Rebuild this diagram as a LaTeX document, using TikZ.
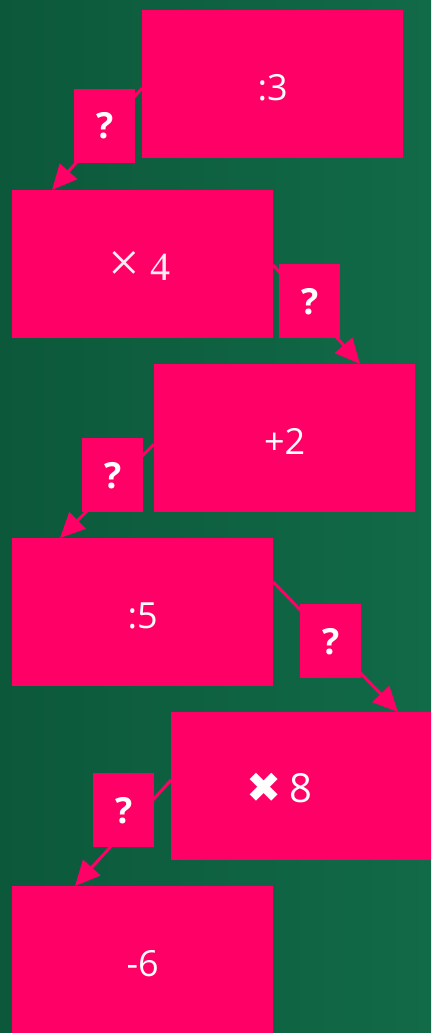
\documentclass[tikz,border=0pt]{standalone}
\usepackage{fontspec}
\setmainfont{Open Sans}
\newfontfamily\symfont{DejaVu Sans}
\newfontfamily\serifnum{Liberation Serif}
\usetikzlibrary{arrows.meta}
\definecolor{pinkbox}{HTML}{FF0066}
\definecolor{bgleft}{HTML}{0C583B}
\definecolor{bgright}{HTML}{116A48}
\tikzset{
  bigbox/.style={fill=pinkbox, draw=none, anchor=north west, minimum width=261pt, minimum height=148pt, inner sep=0pt, text=white, text height=33pt, text depth=0pt, font=\fontsize{36}{40}\selectfont},
  qbox/.style={fill=pinkbox, draw=none, anchor=north west, minimum width=61pt, minimum height=74pt, inner sep=0pt, text=white, font=\fontsize{36}{40}\selectfont\bfseries},
  link/.style={draw=pinkbox, line width=3pt, -{Triangle[length=25pt,width=23pt]}}
}
\begin{document}
\begin{tikzpicture}[x=1pt,y=-1pt]
\useasboundingbox (0,0) rectangle (431,1033);
\shade[left color=bgleft, right color=bgright] (0,0) rectangle (431,1033);
% big boxes
\node[bigbox] (b1) at (142,10) {:3};
\node[bigbox] (b2) at (12,190) {\serifnum\color{white!92!pinkbox}{\fontsize{56}{56}\selectfont\raisebox{-1pt}{×}}\hspace{11pt}{\fontsize{40}{44}\selectfont 4}\kern6pt};
\node[bigbox] (b3) at (154,364) {+2};
\node[bigbox] (b4) at (12,538) {:5};
\node[bigbox, minimum width=260pt] (b5) at (171,712) {{\symfont\fontsize{42}{44}\selectfont ✖}\hspace{8pt}{\fontsize{40}{44}\selectfont 8}\kern44pt};
\node[bigbox, minimum height=147pt] (b6) at (12,886) {-6};
% arrow endpoints
\coordinate (s1) at ([yshift=-4pt]b1.west);
\coordinate (t1) at ([xshift=40pt]b2.north west);
\coordinate (s2) at ([yshift=-1pt]b2.east);
\coordinate (t2) at ([xshift=206pt]b3.north west);
\coordinate (s3) at ([yshift=-6pt]b3.west);
\coordinate (t3) at ([xshift=48pt]b4.north west);
\coordinate (s4) at ([yshift=-44pt]b4.north east);
\coordinate (t4) at ([xshift=227pt]b5.north west);
\coordinate (s5) at ([yshift=-68pt]b5.north west);
\coordinate (t5) at ([xshift=63pt]b6.north west);
\draw[link] (s1) -- (t1);
\draw[link] (s2) -- (t2);
\draw[link] (s3) -- (t3);
\draw[link] (s4) -- (t4);
\draw[link] (s5) -- (t5);
% question boxes
\node[qbox] (q1) at (74,89) {?};
\node[qbox] (q2) at (279,264) {?};
\node[qbox] (q3) at (82,438) {?};
\node[qbox] (q4) at (300,604) {?};
\node[qbox] (q5) at (93,773) {?};
\end{tikzpicture}
\end{document}
